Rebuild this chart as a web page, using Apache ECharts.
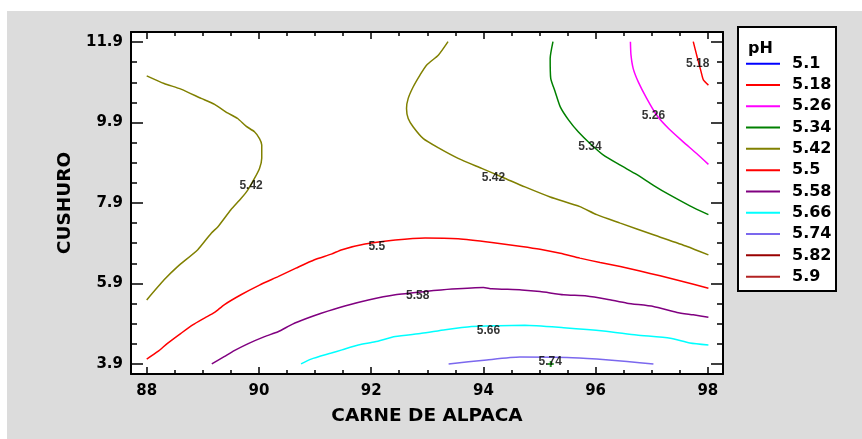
<!DOCTYPE html>
<html>
<head>
<meta charset="utf-8">
<script src="https://cdn.jsdelivr.net/npm/echarts@6/dist/echarts.min.js"></script>
<style>
  html, body { margin: 0; padding: 0; background: #ffffff; }
  #frame { position: absolute; left: 7px; top: 11px; width: 855px; height: 428px; background: #dcdcdc; }
  #chart { position: absolute; left: 0; top: 0; width: 862px; height: 439px; }
</style>
</head>
<body>
<div id="frame"></div>
<div id="chart"></div>
<script>
// pH contour levels shown in the legend
const levels = ['5.1', '5.18', '5.26', '5.34', '5.42', '5.5', '5.58', '5.66', '5.74', '5.82', '5.9'];

// Tick values on both axes
const xMajorTicks = [88, 90, 92, 94, 96, 98];
const xMinorTicks = [88.5, 89, 89.5, 90.5, 91, 91.5, 92.5, 93, 93.5, 94.5, 95, 95.5, 96.5, 97, 97.5];
const yMajorTicks = [3.9, 5.9, 7.9, 9.9, 11.9];
const yMinorTicks = [4.4, 4.9, 5.4, 6.4, 6.9, 7.4, 8.4, 8.9, 9.4, 10.4, 10.9, 11.4];

// Contour paths: [carne de alpaca, cushuro]
const ph518 = [[97.74, 11.91], [97.80, 11.58], [97.88, 11.16], [97.92, 10.96], [98.01, 10.83]];
const ph526 = [[96.62, 11.91], [96.63, 11.58], [96.67, 11.24], [96.76, 10.91], [96.91, 10.50], [97.09, 10.08],
  [97.30, 9.75], [97.56, 9.42], [97.80, 9.13], [98.01, 8.86]];
const ph534 = [[95.24, 11.91], [95.19, 11.49], [95.20, 11.00], [95.28, 10.66], [95.37, 10.29], [95.52, 9.96],
  [95.69, 9.67], [95.90, 9.38], [96.14, 9.09], [96.44, 8.84], [96.73, 8.61], [97.03, 8.34], [97.32, 8.10],
  [97.68, 7.83], [98.01, 7.61]];
const ph542Left = [[88.00, 11.06], [88.31, 10.87], [88.61, 10.73], [88.97, 10.50], [89.21, 10.35], [89.44, 10.14],
  [89.62, 10.00], [89.77, 9.81], [89.92, 9.67], [90.01, 9.50], [90.05, 9.34], [90.05, 9.01], [90.01, 8.76],
  [89.92, 8.51], [89.80, 8.22], [89.68, 8.01], [89.50, 7.73], [89.27, 7.31], [89.15, 7.15], [88.91, 6.74],
  [88.55, 6.32], [88.31, 5.99], [88.00, 5.49]];
const ph542Right = [[93.37, 11.91], [93.20, 11.58], [92.99, 11.33], [92.87, 11.08], [92.75, 10.79], [92.66, 10.50],
  [92.63, 10.25], [92.66, 10.00], [92.75, 9.79], [92.93, 9.50], [93.20, 9.27], [93.55, 9.01], [93.97, 8.76],
  [94.39, 8.51], [94.74, 8.30], [95.19, 8.05], [95.72, 7.81], [96.02, 7.61], [96.44, 7.40], [97.03, 7.11],
  [97.63, 6.82], [98.01, 6.61]];
const ph550 = [[88.00, 4.02], [88.20, 4.21], [88.37, 4.41], [88.61, 4.66], [88.82, 4.87], [89.03, 5.04],
  [89.21, 5.18], [89.38, 5.37], [89.68, 5.62], [90.01, 5.86], [90.34, 6.07], [90.66, 6.28], [90.99, 6.49],
  [91.29, 6.63], [91.48, 6.74], [91.89, 6.88], [92.43, 6.98], [92.96, 7.03], [93.55, 7.01], [94.15, 6.92],
  [94.68, 6.82], [95.01, 6.75], [95.37, 6.65], [95.72, 6.53], [96.08, 6.42], [96.44, 6.32], [96.79, 6.21],
  [97.15, 6.09], [97.50, 5.97], [98.01, 5.78]];
const ph558 = [[89.16, 3.90], [89.38, 4.08], [89.56, 4.23], [89.80, 4.40], [90.10, 4.58], [90.34, 4.70],
  [90.60, 4.89], [90.87, 5.04], [91.11, 5.16], [91.53, 5.34], [91.95, 5.49], [92.43, 5.62], [92.96, 5.70],
  [93.44, 5.76], [94.00, 5.80], [94.15, 5.77], [94.68, 5.74], [95.01, 5.70], [95.43, 5.62], [95.84, 5.59],
  [96.20, 5.51], [96.56, 5.41], [97.03, 5.33], [97.45, 5.18], [97.74, 5.12], [98.01, 5.06]];
const ph566 = [[90.75, 3.90], [90.93, 4.02], [91.29, 4.17], [91.48, 4.25], [91.77, 4.37], [92.07, 4.45],
  [92.43, 4.58], [92.90, 4.66], [93.32, 4.75], [93.79, 4.83], [94.27, 4.85], [94.74, 4.86], [95.43, 4.80],
  [96.14, 4.72], [96.73, 4.62], [97.33, 4.54], [97.68, 4.42], [98.01, 4.37]];
const ph574 = [[93.38, 3.90], [94.06, 4.00], [94.65, 4.07], [95.49, 4.06], [96.02, 4.02], [96.56, 3.96], [97.03, 3.90]];

// Level labels written along the contours: [x, y, text]
const contourLabels = [
  [97.82, 11.37, '5.18'], [97.03, 10.06, '5.26'], [95.90, 9.30, '5.34'],
  [89.86, 8.33, '5.42'], [94.18, 8.53, '5.42'], [92.10, 6.82, '5.5'],
  [92.83, 5.59, '5.58'], [94.09, 4.72, '5.66'], [95.19, 3.96, '5.74']
];

// Marked point near the 5.74 contour
const markedPoint = [[95.2, 3.9]];

const colorByLevel = {
  '5.1': '#0000ff', '5.18': '#ff0000', '5.26': '#ff00ff', '5.34': '#008000', '5.42': '#808000',
  '5.5': '#ff0000', '5.58': '#800080', '5.66': '#00ffff', '5.74': '#7b68ee', '5.82': '#990000', '5.9': '#b22222'
};

const pathsByLevel = {
  '5.1': [[]], '5.18': [ph518], '5.26': [ph526], '5.34': [ph534], '5.42': [ph542Left, ph542Right],
  '5.5': [ph550], '5.58': [ph558], '5.66': [ph566], '5.74': [ph574], '5.82': [[]], '5.9': [[]]
};

const X_MIN = 87.72, X_MAX = 98.27, Y_MIN = 3.65, Y_MAX = 12.15;
const tickFont = { fontFamily: 'DejaVu Sans', fontWeight: 'bold', fontSize: 15, color: '#000' };
const nameFont = { fontFamily: 'DejaVu Sans', fontWeight: 'bold', fontSize: 18.5, color: '#000' };
const black = { color: '#000', width: 1.5 };

function xAxisDef(pos, ticks, len, withLabels, withLine) {
  return {
    type: 'value', position: pos, min: X_MIN, max: X_MAX,
    axisLine: { show: withLine, onZero: false, lineStyle: { color: '#000', width: 2 } },
    axisTick: { show: true, inside: true, length: len, customValues: ticks, lineStyle: black },
    axisLabel: withLabels ? Object.assign({ show: true, customValues: ticks, margin: 10, formatter: v => String(Math.round(v)) }, tickFont) : { show: false },
    splitLine: { show: false }
  };
}
function yAxisDef(pos, ticks, len, withLabels, withLine) {
  return {
    type: 'value', position: pos, min: Y_MIN, max: Y_MAX,
    axisLine: { show: withLine, onZero: false, lineStyle: { color: '#000', width: 2 } },
    axisTick: { show: true, inside: true, length: len, customValues: ticks, lineStyle: black },
    axisLabel: withLabels ? Object.assign({ show: true, customValues: ticks, margin: 8, formatter: v => v.toFixed(1) }, tickFont) : { show: false },
    splitLine: { show: false }
  };
}

const xAxes = [
  xAxisDef('bottom', xMajorTicks, 7, true, true),
  xAxisDef('bottom', xMinorTicks, 4, false, false),
  xAxisDef('top', xMajorTicks, 7, false, true),
  xAxisDef('top', xMinorTicks, 4, false, false)
];
xAxes[0].name = 'CARNE DE ALPACA';
xAxes[0].nameLocation = 'middle';
xAxes[0].nameGap = 33;
xAxes[0].nameTextStyle = nameFont;

const yAxes = [
  yAxisDef('left', yMajorTicks, 12, true, true),
  yAxisDef('left', yMinorTicks, 6, false, false),
  yAxisDef('right', yMajorTicks, 12, false, true),
  yAxisDef('right', yMinorTicks, 6, false, false)
];
yAxes[0].name = 'CUSHURO';
yAxes[0].nameLocation = 'middle';
yAxes[0].nameGap = 56;
yAxes[0].nameTextStyle = nameFont;

const series = [];
levels.forEach(level => {
  pathsByLevel[level].forEach(path => {
    series.push({
      name: level, type: 'line', data: path, showSymbol: false, smooth: 0.2,
      color: colorByLevel[level],
      lineStyle: { color: colorByLevel[level], width: 1.5 },
      emphasis: { disabled: true }, silent: true, z: 3
    });
  });
});
series.push({
  name: 'marked', type: 'scatter', data: markedPoint, symbol: 'path://M2,0H4V2H6V4H4V6H2V4H0V2H2Z',
  symbolSize: 6, itemStyle: { color: '#008000' }, silent: true, z: 4
});
series.push({
  name: 'contour labels', type: 'scatter', data: contourLabels, symbolSize: 0, silent: true, z: 5,
  label: {
    show: true, position: 'inside', formatter: p => p.value[2],
    fontFamily: 'Liberation Sans', fontWeight: 'bold', fontSize: 12, color: '#000'
  }
});

const chart = echarts.init(document.getElementById('chart'), null, { renderer: 'canvas' });
chart.setOption({
  backgroundColor: 'transparent',
  animation: false,
  grid: { left: 131, top: 32, right: 139, bottom: 65, show: true, backgroundColor: '#ffffff', borderWidth: 0, containLabel: false },
  xAxis: xAxes,
  yAxis: yAxes,
  legend: {
    orient: 'vertical', left: 746, top: 53, padding: 0, itemGap: 0,
    itemWidth: 34, itemHeight: 2, icon: 'rect', data: levels, selectedMode: false, z: 6,
    textStyle: {
      fontFamily: 'DejaVu Sans', fontWeight: 'bold', fontSize: 16, color: '#000',
      lineHeight: 9.3, padding: [12, 0, 0, 7]
    }
  },
  graphic: [
    { type: 'rect', z: 1, shape: { x: 738, y: 27, width: 98, height: 264 },
      style: { fill: '#ffffff', stroke: '#000', lineWidth: 2 } },
    { type: 'text', z: 2, x: 748, y: 41,
      style: { text: 'pH', font: 'bold 16px "DejaVu Sans"', fill: '#000' } }
  ],
  series: series
});
</script>
</body>
</html>
